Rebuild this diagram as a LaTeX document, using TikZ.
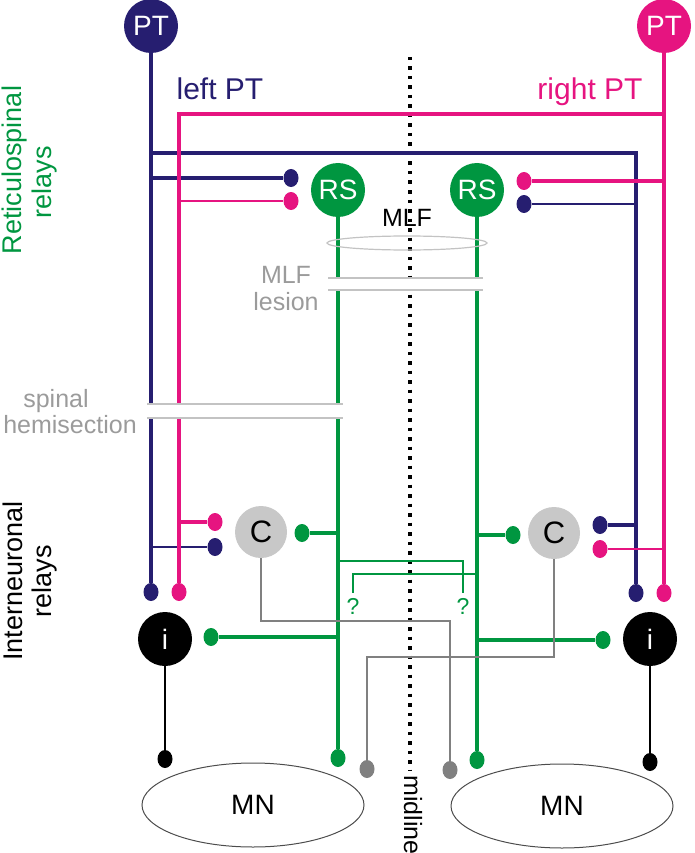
\documentclass[tikz,border=0pt]{standalone}
\usepackage{fontspec}
\setmainfont{Liberation Sans}
\usetikzlibrary{shapes.geometric,backgrounds}
\definecolor{navy}{RGB}{38,30,112}
\definecolor{mypink}{RGB}{230,20,128}
\definecolor{grn}{RGB}{0,150,64}
\definecolor{lgray}{RGB}{200,200,200}
\definecolor{mgray}{RGB}{128,128,128}
\definecolor{tgray}{RGB}{155,155,155}
\definecolor{lesgray}{RGB}{195,195,195}
\begin{document}
\begin{tikzpicture}[x=1pt,y=-1pt,
  neuron/.style={circle,minimum size=54pt,inner sep=0pt,text=white,font=\fontsize{28}{28}\selectfont},
  syn/.style={ellipse,minimum width=15pt,minimum height=18pt,inner sep=0pt},
  thickln/.style={line width=3.4pt},
  medln/.style={line width=2.8pt},
  thinln/.style={line width=1.6pt},
  lbl/.style={inner sep=0pt,anchor=base,font=\fontsize{25}{25}\selectfont},
  bigl/.style={inner sep=0pt,anchor=base,font=\fontsize{30}{30}\selectfont},
  side/.style={inner sep=0pt,anchor=base,rotate=90,font=\fontsize{27}{27}\selectfont},
  qmark/.style={inner sep=0pt,anchor=base,text=grn,font=\fontsize{23}{23}\selectfont},
  mnell/.style={ellipse,draw=black!70,line width=1pt,minimum width=222pt,minimum height=84pt,inner sep=0pt,font=\fontsize{28}{28}\selectfont},
  lesion/.style={draw=lesgray,line width=1.6pt},
]
\useasboundingbox (0,0) rectangle (694,853);

% helper coordinates
\coordinate (hN) at (0,153);
\coordinate (hP) at (0,114);
\coordinate (hQ1) at (0,561);
\coordinate (hQ2) at (0,574);
\coordinate (hG1) at (0,621);
\coordinate (hG2) at (0,657);
\coordinate (midtop) at (410,57);
\coordinate (midbot) at (410,770);

% neurons
\node[neuron,fill=navy] (ptL) at (151,26) {PT};
\node[neuron,fill=mypink] (ptR) at (664,26) {PT};
\node[neuron,fill=grn] (rsL) at (338,190) {RS};
\node[neuron,fill=grn] (rsR) at (477,190) {RS};
\node[neuron,fill=lgray,text=black,minimum size=52pt,font=\fontsize{31}{31}\selectfont] (cL) at (261,532) {C};
\node[neuron,fill=lgray,text=black,minimum size=52pt,font=\fontsize{31}{31}\selectfont] (cR) at (554,533) {C};
\node[neuron,fill=black] (iL) at (165,639) {i};
\node[neuron,fill=black] (iR) at (650,639) {i};

% synapses
\node[syn,fill=navy] (nLrs) at (291,178) {};
\node[syn,fill=mypink] (pLrs) at (291,201) {};
\node[syn,fill=mypink] (pRrs) at (524,181) {};
\node[syn,fill=navy] (nRrs) at (524,204) {};
\node[syn,fill=mypink] (pLc) at (215,522) {};
\node[syn,fill=navy] (nLc) at (215,547) {};
\node[syn,fill=navy] (nRc) at (600,525) {};
\node[syn,fill=mypink] (pRc) at (600,549) {};
\node[syn,fill=navy] (nLi) at (151,592) {};
\node[syn,fill=mypink] (pLi) at (179,592) {};
\node[syn,fill=navy] (nRi) at (636,593) {};
\node[syn,fill=mypink] (pRi) at (664,593) {};
\node[syn,fill=grn] (gLc) at (302,533) {};
\node[syn,fill=grn] (gRc) at (513,535) {};
\node[syn,fill=grn] (gLi) at (211,637) {};
\node[syn,fill=grn] (gRi) at (603,640) {};
\node[syn,fill=grn] (gLm) at (338,758) {};
\node[syn,fill=grn] (gRm) at (477,760) {};
\node[syn,fill=black] (kLm) at (165,759) {};
\node[syn,fill=black] (kRm) at (650,762) {};
\node[syn,fill=mgray] (yL) at (367,769) {};
\node[syn,fill=mgray] (yR) at (450,770) {};

% motoneurons
\node[mnell] (mnL) at (253,805) {MN};
\node[mnell] (mnR) at (562,806) {MN};

% question marks
\node[qmark] (q1) at (463,614) {?};
\node[qmark] (q2) at (353,614) {?};

\begin{scope}[on background layer]
  % midline
  \draw[line width=3.5pt,dash pattern=on 3.5pt off 6pt] (midtop) -- (midbot);
  % left PT (navy)
  \draw[navy,thickln] (ptL) -- (nLi);
  \draw[navy,thickln] (ptL |- hN) -| (nRi);
  \draw[navy,thickln] (ptL |- nLrs) -- (nLrs);
  \draw[navy,thinln] (nLi |- nLc) -- (nLc);
  \draw[navy,thinln] (nRi |- nRrs) -- (nRrs);
  \draw[navy,thickln] (nRi |- nRc) -- (nRc);
  % right PT (pink)
  \draw[mypink,thickln] (ptR) -- (pRi);
  \draw[mypink,thickln] (ptR |- hP) -| (pLi);
  \draw[mypink,thickln] (ptR |- pRrs) -- (pRrs);
  \draw[mypink,medln] (pLi |- pLrs) -- (pLrs);
  \draw[mypink,thickln] (pLi |- pLc) -- (pLc);
  \draw[mypink,thinln] (pRi |- pRc) -- (pRc);
  % reticulospinal (green)
  \draw[grn,thickln] (rsL) -- (gLm);
  \draw[grn,thickln] (rsR) -- (gRm);
  \draw[grn,thickln] (rsL |- gLc) -- (gLc);
  \draw[grn,thickln] (rsR |- gRc) -- (gRc);
  \draw[grn,thickln] (rsL |- gLi) -- (gLi);
  \draw[grn,thickln] (rsR |- gRi) -- (gRi);
  \draw[grn,medln,shorten >=5pt] (rsL |- hQ1) -| (q1.north);
  \draw[grn,medln,shorten >=5pt] (rsR |- hQ2) -| (q2.north);
  % commissural (gray)
  \draw[mgray,medln] (cL) -- (cL |- hG1) -| (yR);
  \draw[mgray,medln] (cR) -- (cR |- hG2) -| (yL);
  % interneurons to MN (black)
  \draw[black,medln] (iL) -- (kLm);
  \draw[black,medln] (iR) -- (kRm);
\end{scope}

% lesions
\fill[white] (147,404) rectangle (343,418);
\draw[lesion] (147,404) -- (343,404);
\draw[lesion] (147,418) -- (343,418);
\fill[white] (328,278) rectangle (483,290);
\draw[lesion] (328,278) -- (483,278);
\draw[lesion] (328,290) -- (483,290);
\draw[lesgray,line width=1.2pt] (407,243) ellipse [x radius=80pt,y radius=7pt];

% labels
\node[bigl,text=navy] (tl) at (220,100) {left PT};
\node[bigl,text=mypink] (tr) at (590,100) {right PT};
\node[lbl,text=black] (mlf) at (407,226) {MLF};
\node[lbl,text=tgray] (ml1) at (286,283) {MLF};
\node[lbl,text=tgray] (ml2) at (286,310) {lesion};
\node[lbl,text=tgray] (sp1) at (56,407) {spinal};
\node[lbl,text=tgray] (sp2) at (70,433) {hemisection};
\node[side,text=grn] (rt1) at (21,170) {Reticulospinal};
\node[side,text=grn] (rt2) at (51,182) {relays};
\node[side,text=black] (in1) at (22,581) {Interneuronal};
\node[side,text=black] (in2) at (51,581) {relays};
\node[inner sep=0pt,anchor=base west,rotate=-90,font=\fontsize{25}{25}\selectfont] (mid) at (404,775) {midline};
\end{tikzpicture}
\end{document}
